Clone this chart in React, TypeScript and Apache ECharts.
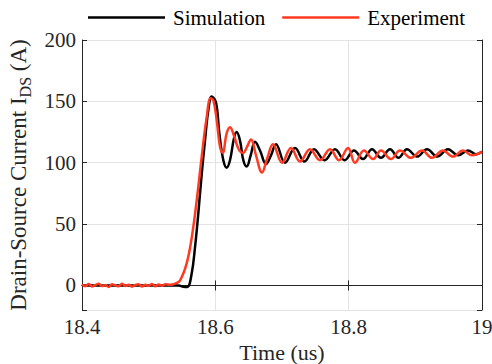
import React, { useEffect, useRef } from "react";
import * as echarts from "echarts";

const xTicks = [18.4, 18.6, 18.8, 19];
const yTicks = [0, 50, 100, 150, 200];

const simTime = [
  18.4, 18.5, 18.545, 18.552, 18.558, 18.5646, 18.5695, 18.5745, 18.5796, 18.5845,
  18.5895, 18.5946, 18.601, 18.606, 18.612, 18.617, 18.622, 18.628, 18.632, 18.637,
  18.642, 18.647, 18.653, 18.6595, 18.667, 18.676, 18.6835, 18.691, 18.7045, 18.7195,
  18.7338, 18.748, 18.7638, 18.7795, 18.794, 18.808, 18.8215, 18.835, 18.8485, 18.862,
  18.8748, 18.8875, 18.9025, 18.9175, 18.933, 18.949, 18.964, 18.979, 18.991, 19.0,
];
const simCurrent = [
  0, 0, 0, -1, -1.2, 10, 31, 59, 91, 118,
  143, 154, 149, 124, 102, 96, 102, 120, 125, 118,
  102, 97, 106, 117, 110, 99, 106, 115, 100, 112,
  101, 111, 102, 111, 102, 110, 103, 111, 104, 111,
  104, 111, 105, 111, 105, 111, 106, 110, 107, 109,
];

const expTime = [
  18.4, 18.405, 18.41, 18.415, 18.42, 18.425, 18.43, 18.435, 18.44, 18.445,
  18.45, 18.455, 18.46, 18.465, 18.47, 18.475, 18.48, 18.485, 18.49, 18.495,
  18.5, 18.505, 18.51, 18.515, 18.52, 18.525, 18.532, 18.54, 18.547, 18.557,
  18.5646, 18.572, 18.5796, 18.587, 18.593, 18.597, 18.602, 18.607, 18.611, 18.617,
  18.622, 18.628, 18.635, 18.6415, 18.6475, 18.6535, 18.661, 18.67, 18.6775, 18.6865,
  18.7, 18.7135, 18.727, 18.742, 18.757, 18.772, 18.7855, 18.799, 18.8095, 18.823,
  18.8365, 18.8485, 18.8635, 18.877, 18.8935, 18.91, 18.925, 18.9415, 18.9565, 18.9715,
  18.985, 19.0,
];
const expCurrent = [
  0.8, -0.6, 1.1, -0.9, 0.3, 1.4, -0.5, 0.2, -1.2, 0.9,
  0.1, -0.7, 1.3, -0.4, 0.6, -1.0, 0.4, 1.0, -0.8, 0.5,
  -0.3, 1.2, -0.6, 0.7, -0.2, 0.9, 0.5, 1.5, 4, 18,
  39, 69, 105, 137, 152.5, 151, 135, 113, 108, 124,
  129, 122, 111, 108, 113, 119, 106, 92, 103, 115,
  100, 112, 101, 111, 102, 111, 102, 112, 100, 110,
  103, 110, 103, 110, 104, 110, 104, 110, 105, 110,
  106, 109,
];

const zip = (a: number[], b: number[]) => a.map((t, i) => [t, b[i]]);

const FONT = "'Liberation Serif', 'Times New Roman', serif";
const AX = "#262626";

export default function App() {
  const ref = useRef<HTMLDivElement>(null);
  useEffect(() => {
    if (!ref.current) return;
    const chart = echarts.init(ref.current, undefined, { renderer: "svg" });
    const baseAxisLine = { show: true, lineStyle: { color: AX, width: 1 } };
    const baseTick = { show: true, inside: true, length: 5, lineStyle: { color: AX } };
    chart.setOption({
      animation: false,
      backgroundColor: "#ffffff",
      textStyle: { fontFamily: FONT },
      grid: { left: 82, right: 10, top: 40, bottom: 54, containLabel: false, outerBoundsMode: "none" },
      legend: {
        left: 88,
        top: 7,
        padding: 0,
        icon: "rect",
        itemWidth: 77,
        itemHeight: 2.5,
        itemGap: 17,
        textStyle: { fontFamily: FONT, fontSize: 21, color: "#000", padding: [0, 0, 0, 3] },
        data: ["Simulation", "Experiment"],
      },
      xAxis: [
        {
          type: "value",
          min: xTicks[0],
          max: xTicks[xTicks.length - 1],
          interval: 0.2,
          position: "bottom",
          axisLine: baseAxisLine,
          axisTick: baseTick,
          splitLine: { show: true, lineStyle: { color: "#e3e3e3", width: 1 } },
          axisLabel: {
            fontFamily: FONT,
            fontSize: 21,
            color: AX,
            margin: 6,
            formatter: (v: number) => String(Math.round(v * 10) / 10),
          },
          name: "Time (us)",
          nameLocation: "middle",
          nameGap: 29,
          nameTextStyle: { fontFamily: FONT, fontSize: 22, color: AX, lineHeight: 22 },
        },
        {
          type: "value",
          min: xTicks[0],
          max: xTicks[xTicks.length - 1],
          interval: 0.2,
          position: "top",
          axisLine: baseAxisLine,
          axisTick: baseTick,
          splitLine: { show: false },
          axisLabel: { show: false },
        },
      ],
      yAxis: [
        {
          type: "value",
          min: -20,
          max: yTicks[yTicks.length - 1],
          splitNumber: 5,
          position: "left",
          axisLine: baseAxisLine,
          axisTick: baseTick,
          splitLine: { show: true, lineStyle: { color: "#e3e3e3", width: 1 } },
          axisLabel: {
            fontFamily: FONT,
            fontSize: 21,
            color: AX,
            margin: 6,
            formatter: (v: number) => (yTicks.indexOf(v) >= 0 ? String(v) : ""),
          },
          name: "{a|Drain-Source Current I}{s|DS}{a| (A)}",
          nameLocation: "middle",
          nameGap: 48,
          nameTextStyle: {
            fontFamily: FONT,
            color: AX,
            rich: {
              a: { fontFamily: FONT, fontSize: 23, color: AX, lineHeight: 30 },
              s: { fontFamily: FONT, fontSize: 16, color: AX, lineHeight: 18, verticalAlign: "bottom" },
            },
          },
        },
        {
          type: "value",
          min: -20,
          max: yTicks[yTicks.length - 1],
          splitNumber: 5,
          position: "right",
          axisLine: baseAxisLine,
          axisTick: baseTick,
          splitLine: { show: false },
          axisLabel: { show: false },
        },
      ],
      series: [
        {
          name: "Simulation",
          type: "line",
          data: zip(simTime, simCurrent),
          showSymbol: false,
          symbol: "none",
          smooth: 0.4,
          lineStyle: { color: "#000000", width: 2.5 },
          itemStyle: { color: "#000000" },
          z: 2,
        },
        {
          name: "Experiment",
          type: "line",
          data: zip(expTime, expCurrent),
          showSymbol: false,
          symbol: "none",
          smooth: 0.4,
          lineStyle: { color: "#ff3a20", width: 2.5 },
          itemStyle: { color: "#ff3a20" },
          z: 3,
        },
      ],
    });
    return () => chart.dispose();
  }, []);
  return <div ref={ref} style={{ width: 492, height: 364, position: "absolute", left: 0, top: 0 }} />;
}
